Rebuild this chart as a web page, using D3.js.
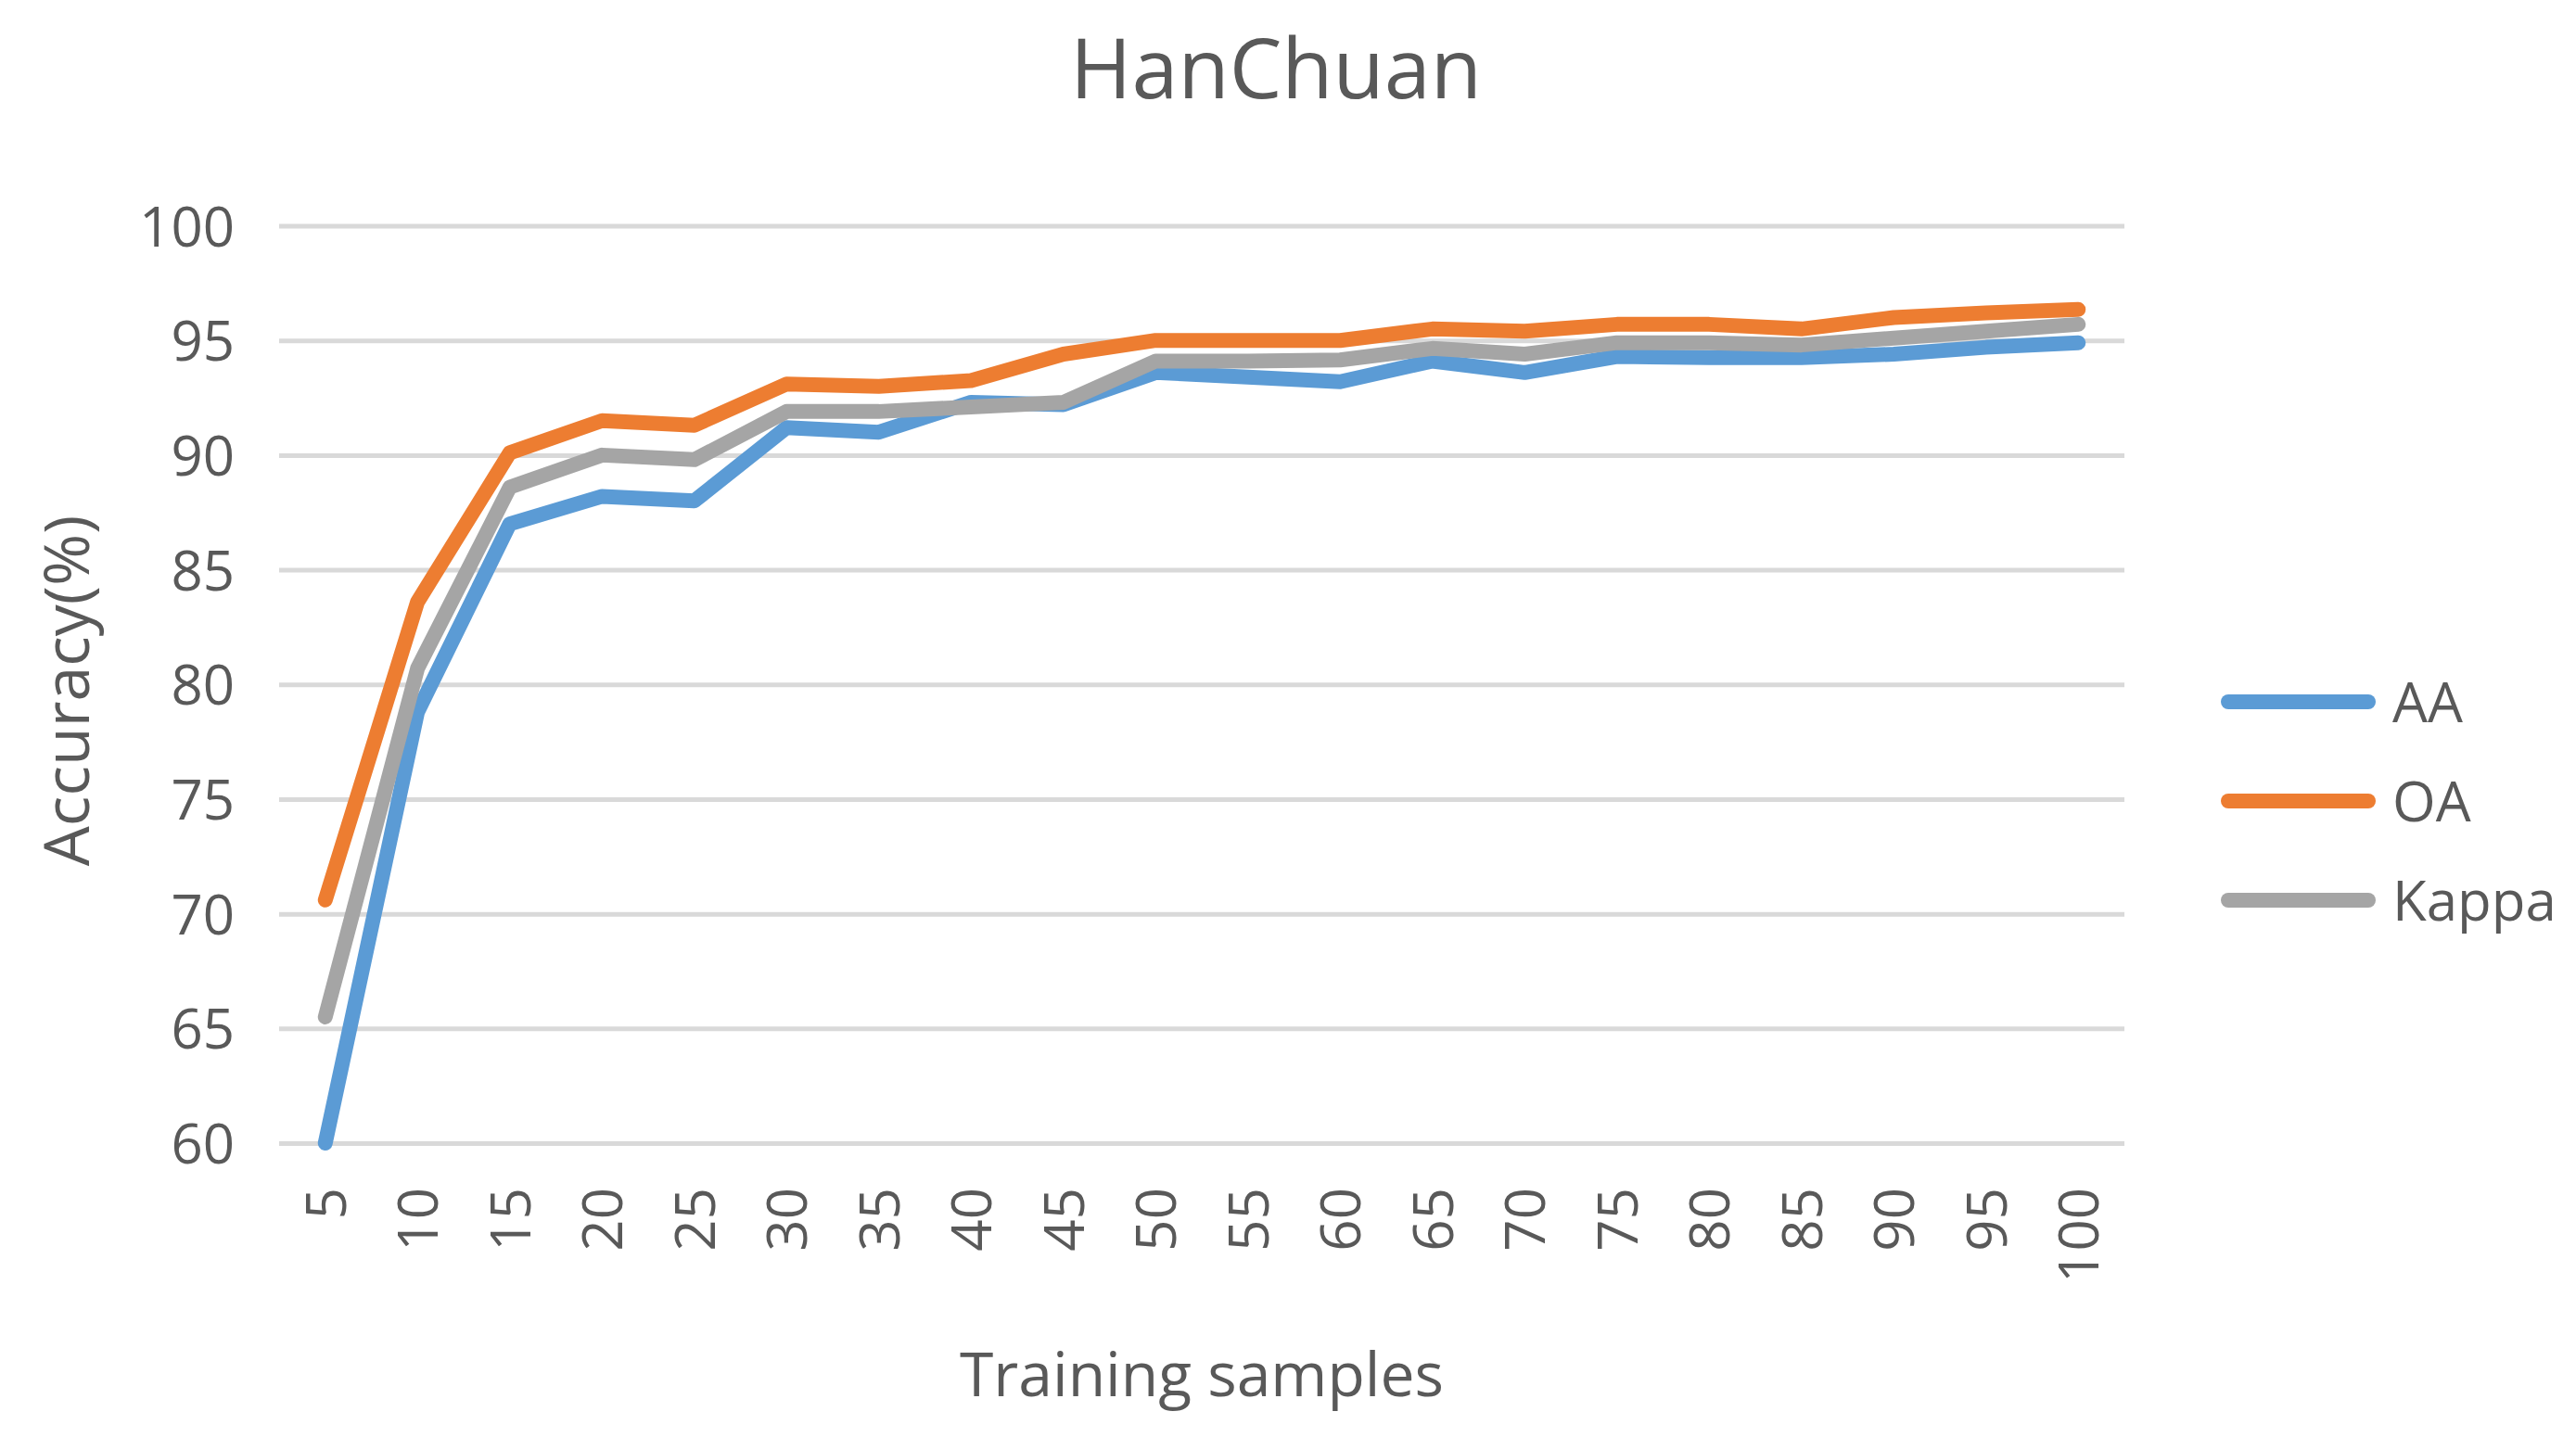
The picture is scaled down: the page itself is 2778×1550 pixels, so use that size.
<!DOCTYPE html>
<html>
<head>
<meta charset="utf-8">
<script src="https://cdn.jsdelivr.net/npm/d3@7"></script>
<style>
  html, body { margin: 0; padding: 0; background: #ffffff; }
  svg { display: block; }
  text { font-family: "Open Sans", "Noto Sans", sans-serif; fill: #595959; }
</style>
</head>
<body>
<svg id="chart" width="2778" height="1550"></svg>
<script>
// ---- data ----
const categories = [5, 10, 15, 20, 25, 30, 35, 40, 45, 50, 55, 60, 65, 70, 75, 80, 85, 90, 95, 100];
const seriesNames = ["AA", "OA", "Kappa"];
const aaValues    = [60.0, 78.8, 87.0, 88.2, 88.0, 91.2, 91.0, 92.3, 92.2, 93.6, 93.4, 93.2, 94.1, 93.6, 94.3, 94.25, 94.25, 94.4, 94.7, 94.9];
const oaValues    = [70.6, 83.6, 90.1, 91.5, 91.3, 93.1, 93.0, 93.25, 94.4, 95.0, 95.0, 95.0, 95.5, 95.4, 95.7, 95.7, 95.5, 96.0, 96.2, 96.35];
const kappaValues = [65.5, 80.7, 88.6, 90.0, 89.8, 91.9, 91.9, 92.1, 92.3, 94.1, 94.1, 94.15, 94.65, 94.4, 94.9, 94.9, 94.8, 95.1, 95.4, 95.7];
const yTicks = [60, 65, 70, 75, 80, 85, 90, 95, 100];
const seriesColors = ["#5B9BD5", "#ED7D31", "#A5A5A5"];
const titleText = "HanChuan";
const xTitle = "Training samples";
const yTitle = "Accuracy(%)";

const series = seriesNames.map((name, i) => ({
  name,
  color: seriesColors[i],
  values: [aaValues, oaValues, kappaValues][i]
}));

// ---- layout ----
const plot = { left: 301, right: 2291, top: 243.5, bottom: 1233 };
const svg = d3.select("#chart");

const x = d3.scalePoint().domain(categories).range([plot.left, plot.right]).padding(0.5);
const y = d3.scaleLinear().domain([60, 100]).range([plot.bottom, plot.top]);

// y axis with gridlines
const yAxis = svg.append("g")
  .attr("transform", `translate(${plot.left},0)`)
  .call(d3.axisLeft(y).tickValues(yTicks).tickSize(-(plot.right - plot.left)).tickPadding(48));
yAxis.select(".domain").remove();
yAxis.selectAll(".tick line").attr("stroke", "#d9d9d9").attr("stroke-width", 5);
yAxis.selectAll(".tick text")
  .attr("font-size", 60)
  .attr("font-family", "Open Sans")
  .attr("fill", "#595959")
  .attr("dy", "0.36em");

// x axis labels (rotated)
const xAxis = svg.append("g")
  .attr("transform", `translate(0,${plot.bottom})`)
  .call(d3.axisBottom(x).tickSize(0).tickPadding(0));
xAxis.select(".domain").remove();
xAxis.selectAll(".tick text")
  .attr("transform", "rotate(-90)")
  .attr("text-anchor", "end")
  .attr("x", -48)
  .attr("y", 0)
  .attr("dy", "0.36em")
  .attr("font-size", 60)
  .attr("font-family", "Open Sans")
  .attr("fill", "#595959");

// lines
const line = d3.line()
  .x((d, i) => x(categories[i]))
  .y(d => y(d));

svg.append("g").selectAll("path")
  .data(series)
  .join("path")
  .attr("d", d => line(d.values))
  .attr("fill", "none")
  .attr("stroke", d => d.color)
  .attr("stroke-width", 16)
  .attr("stroke-linejoin", "round")
  .attr("stroke-linecap", "round");

// title
svg.append("text")
  .attr("x", 1376).attr("y", 106)
  .attr("text-anchor", "middle")
  .attr("font-size", 90)
  .text(titleText);

// x title
svg.append("text")
  .attr("x", (plot.left + plot.right) / 2).attr("y", 1506)
  .attr("text-anchor", "middle")
  .attr("font-size", 66)
  .text(xTitle);

// y title
svg.append("text")
  .attr("transform", "translate(96,745) rotate(-90)")
  .attr("text-anchor", "middle")
  .attr("font-size", 68)
  .text(yTitle);

// legend
const legendY = d3.scalePoint().domain(seriesNames).range([757, 971]);
const legend = svg.append("g").selectAll("g")
  .data(series)
  .join("g")
  .attr("transform", d => `translate(0,${legendY(d.name)})`);
legend.append("line")
  .attr("x1", 2403).attr("x2", 2554)
  .attr("y1", 0).attr("y2", 0)
  .attr("stroke", d => d.color)
  .attr("stroke-width", 16)
  .attr("stroke-linecap", "round");
legend.append("text")
  .attr("x", 2580).attr("y", 0)
  .attr("dy", "0.36em")
  .attr("font-size", 60)
  .text(d => d.name);
</script>
</body>
</html>
